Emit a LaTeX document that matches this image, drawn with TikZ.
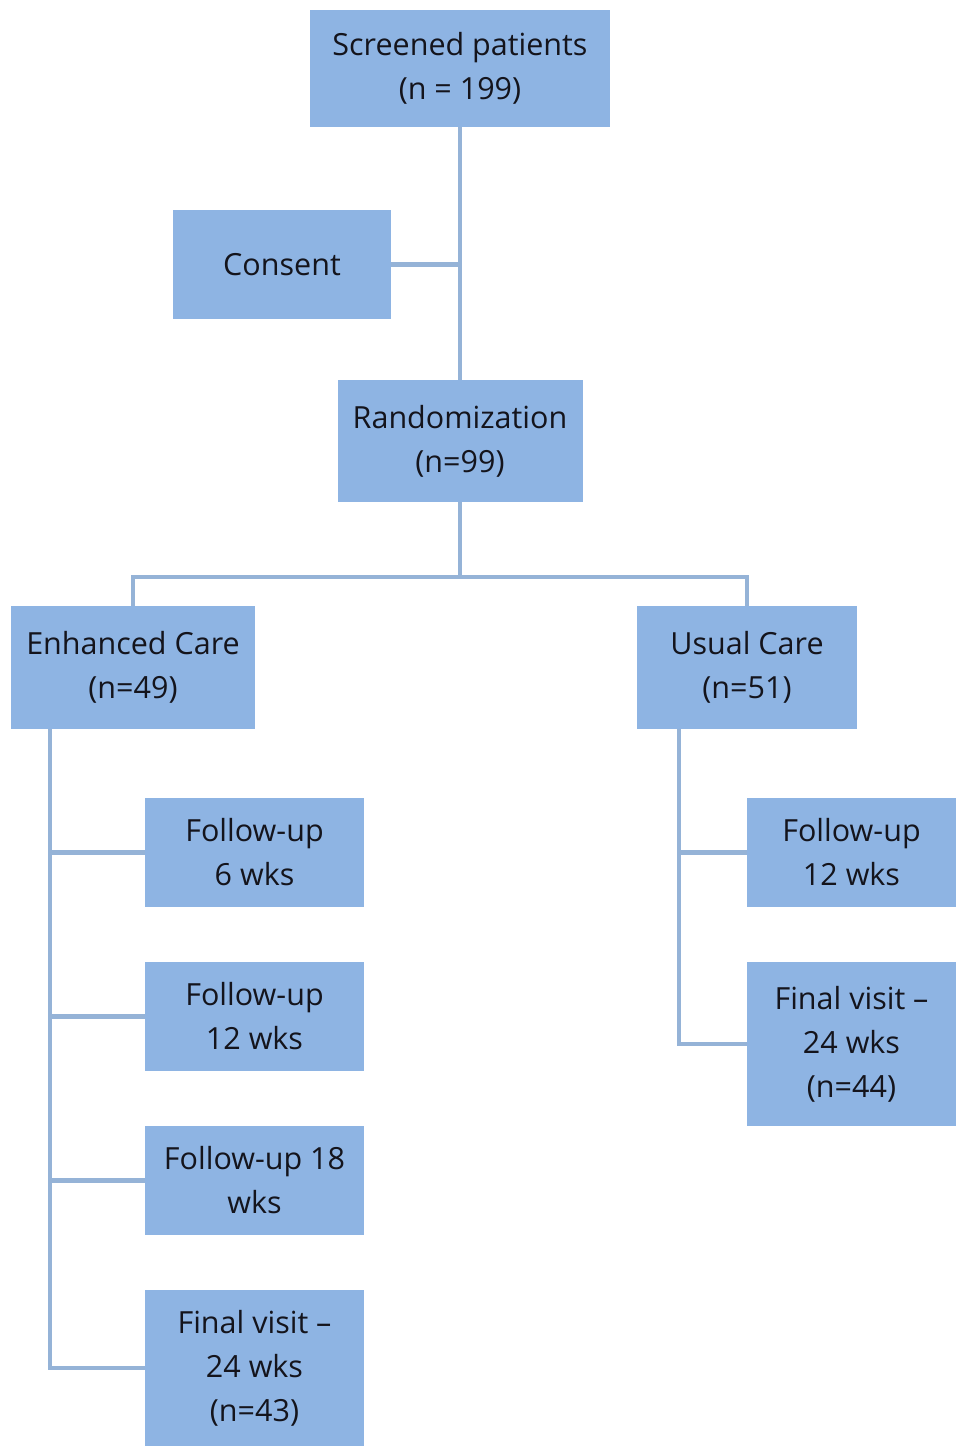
\documentclass[tikz,border=0pt]{standalone}
\usepackage{fontspec}
\setmainfont{Open Sans}
\definecolor{boxfill}{HTML}{8EB4E3}
\definecolor{linec}{HTML}{95B3D7}
\definecolor{txt}{HTML}{14141C}
\begin{document}
\begin{tikzpicture}[x=1pt,y=-1pt,
  box/.style={rectangle,fill=boxfill,draw=none,align=center,text=txt,inner sep=0pt,
    font=\fontsize{30.5}{44}\selectfont},
  conn/.style={draw=linec,line width=4.5pt}]
\useasboundingbox (0,0) rectangle (956,1446);
\coordinate (split) at (460,577);
\coordinate (lt) at (50,729);
\coordinate (rt) at (679,729);
\path[conn] (460,127) -- (460,380);
\path[conn] (391,264.5) -- (460,264.5);
\node[box,minimum width=300pt,minimum height=117pt] (scr) at (460,68.5) {Screened patients\\(n = 199)};
\node[box,minimum width=218pt,minimum height=109pt] (cons) at (282,264.5) {Consent};
\node[box,minimum width=245pt,minimum height=122pt] (rand) at (460,441) {Randomization\\(n=99)};
\node[box,minimum width=244pt,minimum height=123pt] (enh) at (133,667.5) {Enhanced Care\\(n=49)};
\node[box,minimum width=220pt,minimum height=123pt] (usu) at (747,667.5) {Usual Care\\(n=51)};
\node[box,minimum width=219pt,minimum height=109pt] (fu6) at (254.5,852.5) {Follow-up\\6 wks};
\node[box,minimum width=219pt,minimum height=109pt] (fu12) at (254.5,1016.5) {Follow-up\\12 wks};
\node[box,minimum width=219pt,minimum height=109pt] (fu18) at (254.5,1180.5) {Follow-up 18\\wks};
\node[box,minimum width=219pt,minimum height=156pt] (finl) at (254.5,1368) {Final visit –\\24 wks\\(n=43)};
\node[box,minimum width=209pt,minimum height=109pt] (fu12r) at (851.5,852.5) {Follow-up\\12 wks};
\node[box,minimum width=209pt,minimum height=164pt] (finr) at (851.5,1044) {Final visit –\\24 wks\\(n=44)};
\draw[conn] (rand.south) -- (split);
\draw[conn] (split) -| (enh.north);
\draw[conn] (split) -| (usu.north);
\draw[conn] (lt) |- (fu6.west);
\draw[conn] (lt) |- (fu12.west);
\draw[conn] (lt) |- (fu18.west);
\draw[conn] (lt) |- (finl.west);
\draw[conn] (rt) |- (fu12r.west);
\draw[conn] (rt) |- (finr.west);
\end{tikzpicture}
\end{document}
